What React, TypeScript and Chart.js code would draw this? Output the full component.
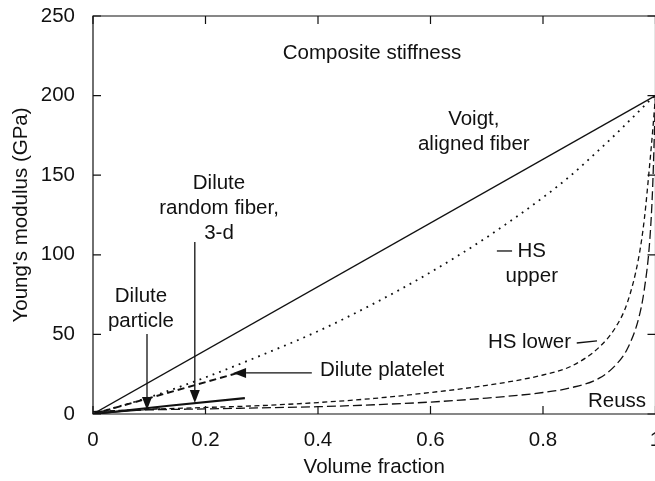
import React, { useEffect, useRef } from "react";
import { Chart, registerables } from "chart.js";

Chart.register(...registerables);

// ---------- data ----------
const fractionGrid = [0, 0.1, 0.2, 0.3, 0.4, 0.5, 0.6, 0.7, 0.8, 0.85, 0.9, 0.93, 0.95, 0.97, 0.98, 0.99, 0.995, 1];
const hsUpper = [0, 10.5, 23, 37, 52, 69.5, 89, 111, 136, 150, 166, 176, 183, 190, 193.5, 197, 198.5, 200];
const hsLower = [1.5, 3, 4.1, 5.3, 7.2, 9.8, 13.5, 18, 24.5, 30, 42, 55, 70, 98, 122, 158, 178, 200];
const reuss = [1.5, 2.6, 3.2, 3.9, 4.6, 5.8, 7.5, 10, 13.5, 16.5, 22.5, 31, 41, 60, 78, 110, 143, 200];

const voigtX = [0, 1];
const voigtY = [0, 200];
const plateletX = [0, 0.13, 0.26];
const plateletY = [0, 13, 26];
const randomFiberX = [0, 0.135, 0.27];
const randomFiberY = [0, 5.2, 10];
const particleX = [0, 0.12];
const particleY = [0, 3.4];

const xTickValues = [0, 0.2, 0.4, 0.6, 0.8, 1];
const xTickLabels = ["0", "0.2", "0.4", "0.6", "0.8", "1"];
const yTickValues = [0, 50, 100, 150, 200, 250];
const yTickLabels = ["0", "50", "100", "150", "200", "250"];

const xTitle = "Volume fraction";
const yTitle = "Young's modulus (GPa)";

// text notes: lines, anchor in data units (baseline of first line), alignment
const notes = [
  { lines: ["Composite stiffness"], x: 0.496, y: 223, align: "center" },
  { lines: ["Voigt,", "aligned fiber"], x: 0.677, y: 181.5, align: "center" },
  { lines: ["Dilute", "random fiber,", "3-d"], x: 0.224, y: 141.3, align: "center" },
  { lines: ["Dilute", "particle"], x: 0.0853, y: 70.4, align: "center" },
  { lines: ["Dilute platelet"], x: 0.4036, y: 23.9, align: "left" },
  { lines: ["HS", "upper"], x: 0.78, y: 98.5, align: "center" },
  { lines: ["HS lower"], x: 0.702, y: 41.5, align: "left" },
  { lines: ["Reuss"], x: 0.88, y: 4.4, align: "left" },
];

// arrows / leaders in data units: [x1, y1, x2, y2, head]
const arrows = [
  [0.096, 50.3, 0.096, 2.5, 1],
  [0.181, 108, 0.181, 6.9, 1],
  [0.389, 25.8, 0.249, 25.8, 1],
  [0.718, 102.4, 0.745, 102.4, 0],
  [0.86, 44.6, 0.896, 45.9, 0],
];

const FONT = "'Liberation Sans', Arial, Helvetica, sans-serif";
const INK = "#111";

const pts = (xs: number[], ys: number[]) => xs.map((x, i) => ({ x, y: ys[i] }));

const decorPlugin = {
  id: "decor",
  afterDatasetsDraw(chart: any) {
    const { ctx, chartArea, scales } = chart;
    const xs = scales.x;
    const ys = scales.y;
    const { left, right, top, bottom } = chartArea;
    ctx.save();
    ctx.strokeStyle = INK;
    ctx.fillStyle = INK;
    ctx.lineWidth = 1.2;
    // frame
    ctx.beginPath();
    ctx.rect(left, top, right - left, bottom - top);
    ctx.stroke();
    // inward ticks
    const tl = 8;
    ctx.beginPath();
    xTickValues.forEach((v) => {
      const px = xs.getPixelForValue(v);
      ctx.moveTo(px, bottom);
      ctx.lineTo(px, bottom - tl);
      ctx.moveTo(px, top);
      ctx.lineTo(px, top + tl);
    });
    yTickValues.forEach((v) => {
      const py = ys.getPixelForValue(v);
      ctx.moveTo(left, py);
      ctx.lineTo(left + tl, py);
      ctx.moveTo(right, py);
      ctx.lineTo(right - tl, py);
    });
    ctx.stroke();

    // notes
    ctx.font = `20.5px ${FONT}`;
    ctx.textBaseline = "alphabetic";
    notes.forEach((n) => {
      ctx.textAlign = n.align as CanvasTextAlign;
      const px = xs.getPixelForValue(n.x);
      const py = ys.getPixelForValue(n.y);
      n.lines.forEach((line, i) => ctx.fillText(line, px, py + i * 25));
    });

    // arrows
    ctx.lineWidth = 1.3;
    arrows.forEach(([x1, y1, x2, y2, head]) => {
      const ax = xs.getPixelForValue(x1);
      const ay = ys.getPixelForValue(y1);
      const bx = xs.getPixelForValue(x2);
      const by = ys.getPixelForValue(y2);
      const ang = Math.atan2(by - ay, bx - ax);
      const hl = 13;
      const hw = 5;
      ctx.beginPath();
      ctx.moveTo(ax, ay);
      if (head) {
        ctx.lineTo(bx - Math.cos(ang) * hl, by - Math.sin(ang) * hl);
      } else {
        ctx.lineTo(bx, by);
      }
      ctx.stroke();
      if (head) {
        const cx = bx - Math.cos(ang) * hl;
        const cy = by - Math.sin(ang) * hl;
        ctx.beginPath();
        ctx.moveTo(bx, by);
        ctx.lineTo(cx - Math.sin(ang) * hw, cy + Math.cos(ang) * hw);
        ctx.lineTo(cx + Math.sin(ang) * hw, cy - Math.cos(ang) * hw);
        ctx.closePath();
        ctx.fill();
      }
    });
    ctx.restore();
  },
};

export default function App() {
  const ref = useRef<HTMLCanvasElement | null>(null);

  useEffect(() => {
    const canvas = ref.current;
    if (!canvas) return;
    const base = {
      pointRadius: 0,
      pointHoverRadius: 0,
      borderColor: INK,
      backgroundColor: INK,
      fill: false,
    };
    const chart = new Chart(canvas, {
      type: "line",
      data: {
        datasets: [
          { ...base, label: "Voigt", data: pts(voigtX, voigtY), borderWidth: 1.3 },
          {
            ...base,
            label: "HS upper",
            data: pts(fractionGrid, hsUpper),
            borderWidth: 1.8,
            borderDash: [1.8, 5.2],
            cubicInterpolationMode: "monotone",
          },
          {
            ...base,
            label: "HS lower",
            data: pts(fractionGrid, hsLower),
            borderWidth: 1.3,
            borderDash: [5, 3.5],
            cubicInterpolationMode: "monotone",
          },
          {
            ...base,
            label: "Reuss",
            data: pts(fractionGrid, reuss),
            borderWidth: 1.3,
            borderDash: [9, 4],
            cubicInterpolationMode: "monotone",
          },
          {
            ...base,
            label: "Dilute platelet",
            data: pts(plateletX, plateletY),
            borderWidth: 2,
            borderDash: [7, 4],
          },
          { ...base, label: "Dilute random fiber", data: pts(randomFiberX, randomFiberY), borderWidth: 2.2 },
          { ...base, label: "Dilute particle", data: pts(particleX, particleY), borderWidth: 1 },
        ],
      },
      options: {
        responsive: false,
        animation: false,
        devicePixelRatio: 1,
        events: [],
        layout: { padding: { left: 0, right: 44.5, top: 16, bottom: 0 } },
        plugins: { legend: { display: false }, tooltip: { enabled: false } },
        scales: {
          x: {
            type: "linear",
            min: 0,
            max: 1,
            grid: { display: false },
            border: { display: false },
            afterBuildTicks: (s: any) => {
              s.ticks = xTickValues.map((v) => ({ value: v }));
            },
            afterFit: (s: any) => {
              s.height = 67;
            },
            ticks: {
              padding: 6,
              color: INK,
              font: { family: FONT, size: 20.5 },
              maxRotation: 0,
              callback: (v: any) => xTickLabels[xTickValues.indexOf(Number(v))] ?? "",
            },
            title: {
              display: true,
              text: xTitle,
              color: INK,
              font: { family: FONT, size: 20.5 },
              padding: { top: 0, bottom: 1 },
            },
          },
          y: {
            type: "linear",
            min: 0,
            max: 250,
            grid: { display: false },
            border: { display: false },
            afterBuildTicks: (s: any) => {
              s.ticks = yTickValues.map((v) => ({ value: v }));
            },
            afterFit: (s: any) => {
              s.width = 93;
            },
            ticks: {
              padding: 10,
              color: INK,
              font: { family: FONT, size: 20.5, lineHeight: 0.4 },
              callback: (v: any) => yTickLabels[yTickValues.indexOf(Number(v))] ?? "",
            },
            title: {
              display: true,
              text: yTitle,
              color: INK,
              font: { family: FONT, size: 20.5 },
              padding: { top: 9, bottom: 0 },
            },
          },
        },
      } as any,
      plugins: [decorPlugin],
    });
    return () => chart.destroy();
  }, []);

  return (
    <div
      style={{
        position: "fixed",
        left: 0,
        top: 0,
        width: 655,
        height: 481,
        overflow: "hidden",
        background: "#fff",
      }}
    >
      <canvas ref={ref} width={700} height={481} style={{ width: 700, height: 481, display: "block" }} />
    </div>
  );
}
